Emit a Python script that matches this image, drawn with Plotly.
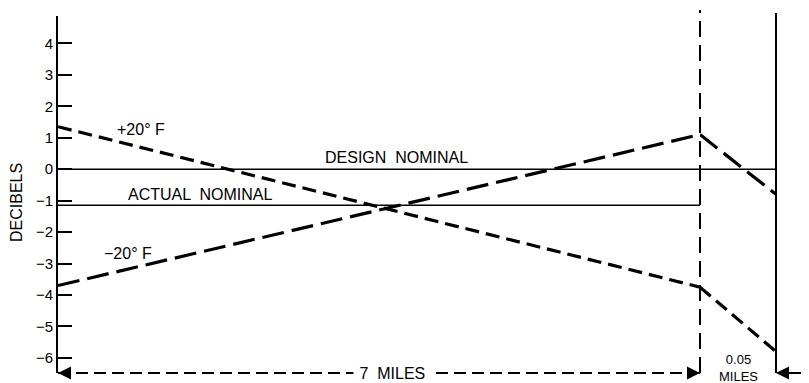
import plotly.graph_objects as go

# distance along the run (miles): 7-mile span, then a 0.05-mile span
span_main = [0, 7]
span_end = [7, 7.05]

# decibel readings
plus20_main = [1.35, -3.75]
plus20_end = [-3.75, -5.8]
minus20_main = [-3.7, 1.1]
minus20_end = [1.1, -0.8]
design_nominal = [0, 0]
actual_nominal = [-1.15, -1.15]

y_ticks = [4, 3, 2, 1, 0, -1, -2, -3, -4, -5, -6]

# page body has an 8px default margin, so the figure is laid out 8px smaller
BODY = 8
W, H = 809 - BODY, 383 - BODY
LEFT, RIGHT, TOP, BOTTOM = 58, 776, 16, 373  # plot edges in window pixels
plot_w = RIGHT - LEFT
plot_h = BOTTOM - TOP
split = 642 / plot_w  # paper x where the 7-mile span ends

FONT = "Liberation Sans, Arial, sans-serif"


def px(xp):
    return (xp - LEFT) / plot_w


def py(yp):
    return (BOTTOM - yp) / plot_h


fig = go.Figure()

dash_p20 = "14px,7px"
dash_m20 = "22px,8px"

fig.add_trace(go.Scatter(x=span_main, y=design_nominal, mode="lines",
                         line=dict(color="black", width=1.5), xaxis="x", yaxis="y"))
fig.add_trace(go.Scatter(x=span_end, y=design_nominal, mode="lines",
                         line=dict(color="black", width=1.5), xaxis="x2", yaxis="y"))
fig.add_trace(go.Scatter(x=span_main, y=actual_nominal, mode="lines",
                         line=dict(color="black", width=1.5), xaxis="x", yaxis="y"))
fig.add_trace(go.Scatter(x=span_main, y=plus20_main, mode="lines",
                         line=dict(color="black", width=3.2, dash=dash_p20), xaxis="x", yaxis="y"))
fig.add_trace(go.Scatter(x=span_end, y=plus20_end, mode="lines",
                         line=dict(color="black", width=3.2, dash=dash_p20), xaxis="x2", yaxis="y"))
fig.add_trace(go.Scatter(x=span_main, y=minus20_main, mode="lines",
                         line=dict(color="black", width=3.2, dash=dash_m20), xaxis="x", yaxis="y"))
fig.add_trace(go.Scatter(x=span_end, y=minus20_end, mode="lines",
                         line=dict(color="black", width=3.2, dash=dash_m20), xaxis="x2", yaxis="y"))

shapes = [
    # dashed divider at the end of the 7-mile span
    dict(type="line", xref="paper", yref="paper", x0=split, x1=split, y0=0, y1=py(10),
         line=dict(color="black", width=2, dash="16px,8px")),
    # solid line at the end of the 0.05-mile span
    dict(type="line", xref="paper", yref="paper", x0=1, x1=1, y0=0, y1=py(13),
         line=dict(color="black", width=2)),
    # dashed dimension line for 7 miles
    dict(type="line", xref="paper", yref="paper", x0=0, x1=split, y0=0, y1=0,
         line=dict(color="black", width=2, dash="12px,6px")),
]

ann_font = dict(family=FONT, size=16, color="black")
small_font = dict(family=FONT, size=13, color="black")


def label(text, x, y, font=ann_font, **kw):
    return dict(x=x, y=y, xref="paper", yref="paper", text=text, showarrow=False,
                xanchor="center", yanchor="middle", font=font, **kw)


annotations = [
    dict(x=0.9, y=plus20_main[0] + (plus20_main[1] - plus20_main[0]) * 0.9 / 7, xref="x", yref="y",
         text="+20° F", showarrow=False, yshift=18, font=ann_font),
    dict(x=0.76, y=minus20_main[0] + (minus20_main[1] - minus20_main[0]) * 0.76 / 7, xref="x", yref="y",
         text="−20° F", showarrow=False, yshift=16, font=ann_font),
    dict(x=3.69, y=design_nominal[0], xref="x", yref="y", text="DESIGN  NOMINAL",
         showarrow=False, yshift=12, font=ann_font),
    dict(x=1.55, y=actual_nominal[0], xref="x", yref="y", text="ACTUAL  NOMINAL",
         showarrow=False, yshift=11, font=ann_font),
    label("DECIBELS", px(16), py(203), textangle=-90),
    label(" 7  MILES ", px(392), py(373), bgcolor="white"),
    label("0.05<br>MILES", px(738), py(368), font=small_font),
    # arrowheads of the dimension lines
    dict(x=0, y=0, xref="paper", yref="paper", ax=14, ay=0, text="", showarrow=True,
         arrowhead=2, arrowsize=1.3, arrowwidth=2, arrowcolor="black"),
    dict(x=split, y=0, xref="paper", yref="paper", ax=-14, ay=0, text="", showarrow=True,
         arrowhead=2, arrowsize=1.3, arrowwidth=2, arrowcolor="black"),
    dict(x=1, y=0, xref="paper", yref="paper", ax=809 - RIGHT, ay=0, text="", showarrow=True,
         arrowhead=2, arrowsize=1.3, arrowwidth=2, arrowcolor="black"),
]

fig.update_layout(
    width=W, height=H,
    margin=dict(l=LEFT - BODY, r=W - (RIGHT - BODY), t=TOP - BODY, b=H - (BOTTOM - BODY), pad=0),
    paper_bgcolor="white", plot_bgcolor="white",
    showlegend=False,
    font=dict(family=FONT, size=14, color="black"),
    xaxis=dict(domain=[0, split], range=span_main, visible=False, anchor="y"),
    xaxis2=dict(domain=[split, 1], range=span_end, visible=False, anchor="y"),
    yaxis=dict(range=[-6.48, 4.87], tickvals=y_ticks, ticks="inside", ticklen=14, tickwidth=2,
               tickcolor="black", showline=True, linewidth=2, linecolor="black",
               showgrid=False, zeroline=False, tickfont=dict(family=FONT, size=15)),
    shapes=shapes,
    annotations=annotations,
)

fig.write_html("out.html")
